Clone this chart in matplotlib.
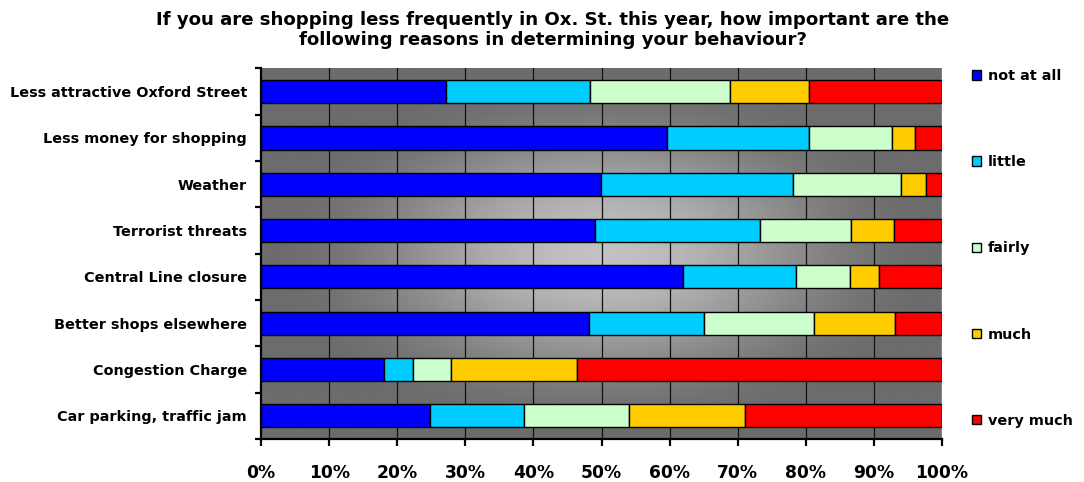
import numpy as np
import matplotlib
matplotlib.use("Agg")
import matplotlib.pyplot as plt

# Survey reasons (top to bottom) and the share of answers per importance level (%)
reasons = [
    "Less attractive Oxford Street",
    "Less money for shopping",
    "Weather",
    "Terrorist threats",
    "Central Line closure",
    "Better shops elsewhere",
    "Congestion Charge",
    "Car parking, traffic jam",
]
levels = ["not at all", "little", "fairly", "much", "very much"]

not_at_all = [27.2, 59.6, 49.9, 49.0, 62.0, 48.2, 18.1, 24.8]
little     = [21.1, 20.9, 28.2, 24.3, 16.6, 16.9,  4.2, 13.8]
fairly     = [20.6, 12.2, 15.9, 13.4,  7.9, 16.1,  5.6, 15.4]
much       = [11.6,  3.3,  3.7,  6.2,  4.2, 11.9, 18.5, 17.1]
very_much  = [19.5,  4.0,  2.3,  7.1,  9.3,  6.9, 53.6, 28.9]

colors = ["#0000FF", "#00CCFF", "#CCFFCC", "#FFCC00", "#FF0000"]
xticks = list(range(0, 101, 10))
title = ("If you are shopping less frequently in Ox. St. this year, how important are the\n"
         "following reasons in determining your behaviour?")

plt.rcParams["font.family"] = ["DejaVu Sans"]
plt.rcParams["font.weight"] = "bold"

fig = plt.figure(figsize=(10.84, 4.82), dpi=100)
ax = fig.add_axes([261 / 1084, 43 / 482, 681 / 1084, 370.5 / 482])

n = len(reasons)
ax.set_xlim(0, 100)
ax.set_ylim(n - 0.5, -0.5)

# radial grey shading behind the bars
gx = np.linspace(-1, 1, 400)
gy = np.linspace(-1, 1, 300)
GX, GY = np.meshgrid(gx, gy)
d = np.clip(np.sqrt(GX ** 2 + GY ** 2), 0, 1)
dark, light = 108 / 255, 193 / 255
shade = dark + (light - dark) * (1 + np.cos(np.pi * d)) / 2
ax.imshow(shade, cmap="gray", vmin=0, vmax=1, extent=(0, 100, n - 0.5, -0.5),
          aspect="auto", zorder=0, interpolation="bilinear")

# vertical gridlines
for xv in xticks[1:-1]:
    ax.axvline(xv, color="#111111", lw=0.9, zorder=1)
ax.axvline(100, color="#8a8a8a", lw=1.2, zorder=1)

series = [not_at_all, little, fairly, much, very_much]
y = np.arange(n)
left = np.zeros(n)
handles = []
for vals, col, lab in zip(series, colors, levels):
    b = ax.barh(y, vals, left=left, height=0.5, color=col, edgecolor="black",
                linewidth=1.0, label=lab, zorder=2)
    handles.append(b)
    left += np.array(vals)

# axes styling
for s in ["top", "right"]:
    ax.spines[s].set_visible(False)
ax.spines["left"].set_linewidth(1.6)
ax.spines["bottom"].set_linewidth(1.6)

ax.set_yticks(y)
ax.set_yticklabels(reasons, fontsize=10.4, fontweight="bold")
ax.set_yticks(np.arange(n + 1) - 0.5, minor=True)
ax.tick_params(axis="y", which="major", length=0, pad=10)
ax.tick_params(axis="y", which="minor", length=4, width=1.6, direction="out")

ax.set_xticks(xticks)
ax.set_xticklabels([f"{v}%" for v in xticks], fontsize=12.3, fontweight="bold")
ax.tick_params(axis="x", length=5, width=1.6, direction="out", pad=13)

fig.text(553 / 1084, 1 - 30 / 482, title, ha="center", va="center",
         fontsize=13.1, fontweight="bold", linespacing=1.2)

fig.legend(handles=handles, labels=levels, loc="upper left",
           bbox_to_anchor=(972 / 1084, 1 - 69 / 482), frameon=False,
           prop={"size": 10.4, "weight": "bold"}, handlelength=0.62, handleheight=0.62,
           handletextpad=0.5, labelspacing=5.0, borderpad=0, borderaxespad=0)

fig.savefig("out.png", dpi=100)
